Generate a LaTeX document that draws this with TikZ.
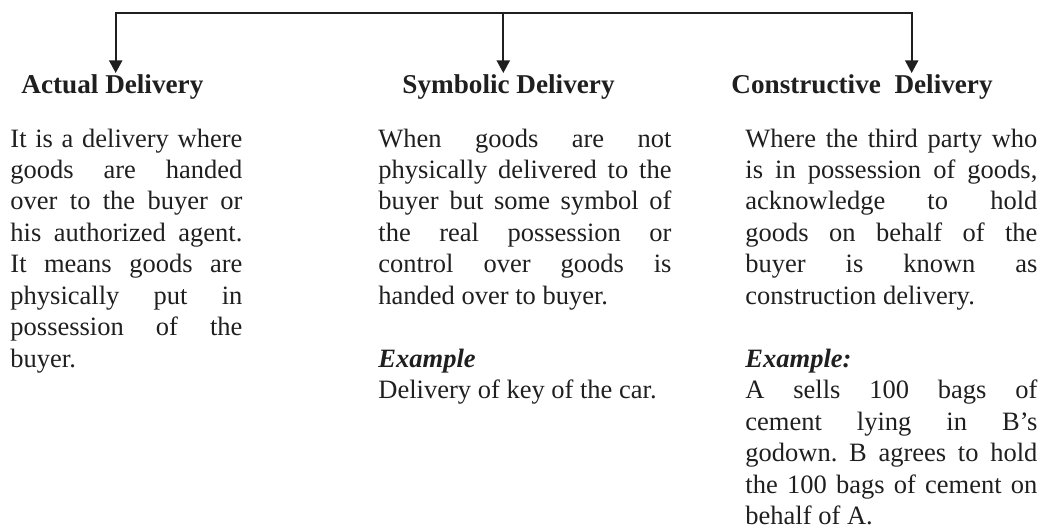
\documentclass[tikz,border=0pt]{standalone}
\usepackage{fontspec}
\setmainfont{Liberation Serif}
\usepackage{tikz}
\usetikzlibrary{arrows.meta}
\definecolor{inkdark}{HTML}{1F1F1F}
\hbadness=10000
\frenchspacing
\newcommand{\jline}[1]{\hbox to\hsize{\spaceskip=0pt\relax\xspaceskip=0pt\relax #1}}
\newcommand{\lline}[1]{\hbox{\spaceskip=0pt\relax #1}}

\begin{document}
\begin{tikzpicture}[
    x=0.4415pt, y=-0.4415pt,
    every node/.style={font=\fontsize{12}{13.9}\selectfont, text=inkdark, inner sep=0pt},
    headlabel/.style={font=\fontsize{12}{13.9}\selectfont\bfseries, anchor=base west},
    bodytext/.style={font=\fontsize{11.7}{13.9}\selectfont, anchor=base west},
    link/.style={draw=inkdark, line width=0.9pt, -{Triangle[width=5.8pt, length=5.6pt]}},
]
\useasboundingbox (0,0) rectangle (1044,527);
% tree of the three kinds of delivery
\coordinate (root) at (503.3,12.7);
\coordinate (tipA) at (115.7,73);
\coordinate (tipS) at (503.3,73);
\coordinate (tipC) at (911.7,73);
\draw[link] (root) -| (tipA);
\draw[link] (root) -- (tipS);
\draw[link] (root) -| (tipC);
\node[headlabel] (hActual) at (21,93) {Actual Delivery};
\node[headlabel] (hSymbolic) at (402,93) {Symbolic Delivery};
\node[headlabel] (hConstructive) at (731,93) {Constructive\ \ Delivery};
\node[bodytext, text width=102.4pt] (bActual) at (10,147) {%
\jline{It is a delivery where}
\jline{goods are handed}
\jline{over to the buyer or}
\jline{his authorized agent.}
\jline{It means goods are}
\jline{physically put in}
\jline{possession of the}
\lline{buyer.}};
\node[bodytext, text width=129.4pt] (bSymbolic) at (378,147) {%
\jline{When goods are not}
\jline{physically delivered to the}
\jline{buyer but some symbol of}
\jline{the real possession or}
\jline{control over goods is}
\lline{handed over to buyer.}
\vskip\baselineskip
\lline{\textbf{\textit{Example}}}
\lline{Delivery of key of the car.}};
\node[bodytext, text width=128.9pt] (bConstructive) at (745,147) {%
\jline{Where the third party who}
\jline{is in possession of goods,}
\jline{acknowledge to hold}
\jline{goods on behalf of the}
\jline{buyer is known as}
\lline{construction delivery.}
\vskip\baselineskip
\lline{\textbf{\textit{Example:}}}
\jline{A sells 100 bags of}
\jline{cement lying in B’s}
\jline{godown. B agrees to hold}
\jline{the 100 bags of cement on}
\lline{behalf of A.}};
\end{tikzpicture}
\end{document}
